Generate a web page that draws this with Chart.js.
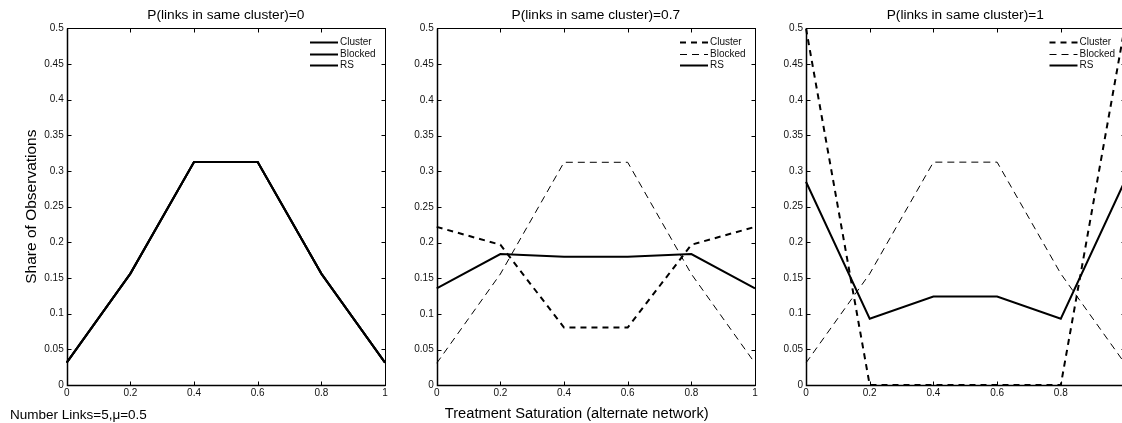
<!DOCTYPE html>
<html>
<head>
<meta charset="utf-8">
<script src="https://cdn.jsdelivr.net/npm/chart.js@4.4.0/dist/chart.umd.min.js"></script>
<style>
  html, body { margin: 0; padding: 0; background: #fff; overflow: hidden; width: 1122px; height: 423px; }
  .panel { position: absolute; top: 0; width: 400px; height: 423px; }
</style>
</head>
<body>
<div class="panel" style="left:0px"><canvas id="p0" width="400" height="423"></canvas></div>
<div class="panel" style="left:370px"><canvas id="p07" width="400" height="423"></canvas></div>
<div class="panel" style="left:740px"><canvas id="p1" width="400" height="423"></canvas></div>
<script>
// x categories (treatment saturation)
const saturation = ['0', '0.2', '0.4', '0.6', '0.8', '1']
const seriesNames = ['Cluster', 'Blocked', 'RS']

// P(links in same cluster)=0
const clusterP0 = [0.031, 0.156, 0.3125, 0.3125, 0.156, 0.031]
const blockedP0 = [0.031, 0.156, 0.3125, 0.3125, 0.156, 0.031]
const rsP0 = [0.031, 0.156, 0.3125, 0.3125, 0.156, 0.031]

// P(links in same cluster)=0.7
const clusterP07 = [0.222, 0.197, 0.081, 0.081, 0.197, 0.222]
const blockedP07 = [0.031, 0.156, 0.3125, 0.3125, 0.156, 0.031]
const rsP07 = [0.136, 0.184, 0.180, 0.180, 0.184, 0.136]

// P(links in same cluster)=1
const clusterP1 = [0.5, 0, 0, 0, 0, 0.5]
const blockedP1 = [0.031, 0.156, 0.3125, 0.3125, 0.156, 0.031]
const rsP1 = [0.285, 0.093, 0.124, 0.124, 0.093, 0.285]

Chart.defaults.font.family = "'Liberation Sans', Arial, Helvetica, sans-serif"
Chart.defaults.color = '#111'

// MATLAB style box with inward ticks
const matlabBox = {
  id: 'matlabBox',
  afterDatasetsDraw(chart) {
    const { ctx, chartArea: a, scales: { x, y } } = chart
    const l = Math.round(a.left) + 0.5, r = Math.round(a.right) + 0.5
    const t = Math.round(a.top) + 0.5, b = Math.round(a.bottom) + 0.5
    ctx.save()
    ctx.strokeStyle = '#000'
    ctx.lineWidth = 1
    ctx.strokeRect(l, t, r - l, b - t)
    ctx.beginPath()
    x.ticks.forEach((tk, i) => {
      const px = Math.round(x.getPixelForTick(i)) + 0.5
      ctx.moveTo(px, b); ctx.lineTo(px, b - 4)
      ctx.moveTo(px, t); ctx.lineTo(px, t + 4)
    })
    y.ticks.forEach(tk => {
      const py = Math.round(y.getPixelForValue(tk.value)) + 0.5
      ctx.moveTo(l, py); ctx.lineTo(l + 4, py)
      ctx.moveTo(r, py); ctx.lineTo(r - 4, py)
    })
    ctx.stroke()
    // heavier left / bottom axis lines
    ctx.lineWidth = 1.5
    ctx.beginPath()
    ctx.moveTo(l, t); ctx.lineTo(l, b); ctx.lineTo(r, b)
    ctx.stroke()
    ctx.restore()
  }
}

// legend drawn inside the top right corner, no frame
const cornerLegend = {
  id: 'cornerLegend',
  afterDraw(chart) {
    const { ctx, chartArea: a } = chart
    ctx.save()
    ctx.font = "10px 'Liberation Sans', Arial, sans-serif"
    ctx.textBaseline = 'middle'
    ctx.fillStyle = '#111'
    chart.data.datasets.forEach((ds, i) => {
      const yy = Math.round(a.top + 14 + i * 11.5) + 0.5
      ctx.strokeStyle = '#000'
      ctx.lineWidth = ds.borderWidth
      ctx.setLineDash(ds.borderDash || [])
      ctx.beginPath()
      ctx.moveTo(a.right - 75, yy)
      ctx.lineTo(a.right - 47, yy)
      ctx.stroke()
      ctx.fillText(ds.label, a.right - 45, yy)
    })
    ctx.restore()
  }
}

function makeSeries(values, style) {
  const styles = {
    thick: { borderWidth: 2, borderDash: [] },
    thickDash: { borderWidth: 2, borderDash: [6, 5] },
    thinDash: { borderWidth: 1, borderDash: [7, 5] }
  }
  return values.map((v, i) => ({
    label: seriesNames[i],
    data: v,
    borderColor: '#000',
    backgroundColor: '#000',
    pointRadius: 0,
    tension: 0,
    fill: false,
    ...styles[style[i]]
  }))
}

function makeChart(id, title, datasets, opts) {
  return new Chart(document.getElementById(id), {
    type: 'line',
    data: { labels: saturation, datasets: datasets },
    plugins: [matlabBox, cornerLegend],
    options: {
      responsive: false,
      animation: false,
      layout: { padding: { left: opts.padLeft, right: opts.padRight, top: 0, bottom: 0 } },
      plugins: {
        legend: { display: false },
        tooltip: { enabled: false },
        title: {
          display: true,
          text: title,
          fullSize: false,
          color: '#000',
          font: { size: 13.7, weight: 'normal' },
          padding: { top: 7, bottom: 5 }
        },
        subtitle: opts.subtitle ? {
          display: true,
          position: 'bottom',
          align: opts.subtitle.align,
          text: opts.subtitle.text,
          color: '#000',
          font: { size: opts.subtitle.size, weight: 'normal' },
          padding: { top: 2, bottom: 0 }
        } : { display: false }
      },
      scales: {
        x: {
          grid: { display: false, drawTicks: false },
          border: { display: false },
          ticks: { font: { size: 10 }, padding: 2, maxRotation: 0, autoSkip: false },
          afterFit: s => { s.height = opts.xHeight }
        },
        y: {
          min: 0,
          max: 0.5,
          grid: { display: false, drawTicks: false },
          border: { display: false },
          ticks: {
            stepSize: 0.05,
            font: { size: 10 },
            padding: 3,
            callback: v => String(Math.round(v * 100) / 100)
          },
          title: opts.yTitle ? {
            display: true,
            text: opts.yTitle,
            color: '#000',
            font: { size: 15.5 },
            padding: { top: 12.5, bottom: 0 }
          } : { display: false },
          afterFit: s => { s.width = opts.yWidth }
        }
      }
    }
  })
}

makeChart('p0', 'P(links in same cluster)=0',
  makeSeries([clusterP0, blockedP0, rsP0], ['thick', 'thick', 'thick']),
  { padLeft: 10, padRight: 15, yWidth: 56.7, xHeight: 20,
    yTitle: 'Share of Observations',
    subtitle: { text: 'Number Links=5,\u03bc=0.5', align: 'start', size: 13.5 } })

makeChart('p07', 'P(links in same cluster)=0.7',
  makeSeries([clusterP07, blockedP07, rsP07], ['thickDash', 'thinDash', 'thick']),
  { padLeft: 28.4, padRight: 15, yWidth: 38.3, xHeight: 18,
    subtitle: { text: 'Treatment Saturation (alternate network)', align: 'center', size: 14.7 } })

makeChart('p1', 'P(links in same cluster)=1',
  makeSeries([clusterP1, blockedP1, rsP1], ['thickDash', 'thinDash', 'thick']),
  { padLeft: 0, padRight: 15.5, yWidth: 66, xHeight: 38 })
</script>
</body>
</html>
